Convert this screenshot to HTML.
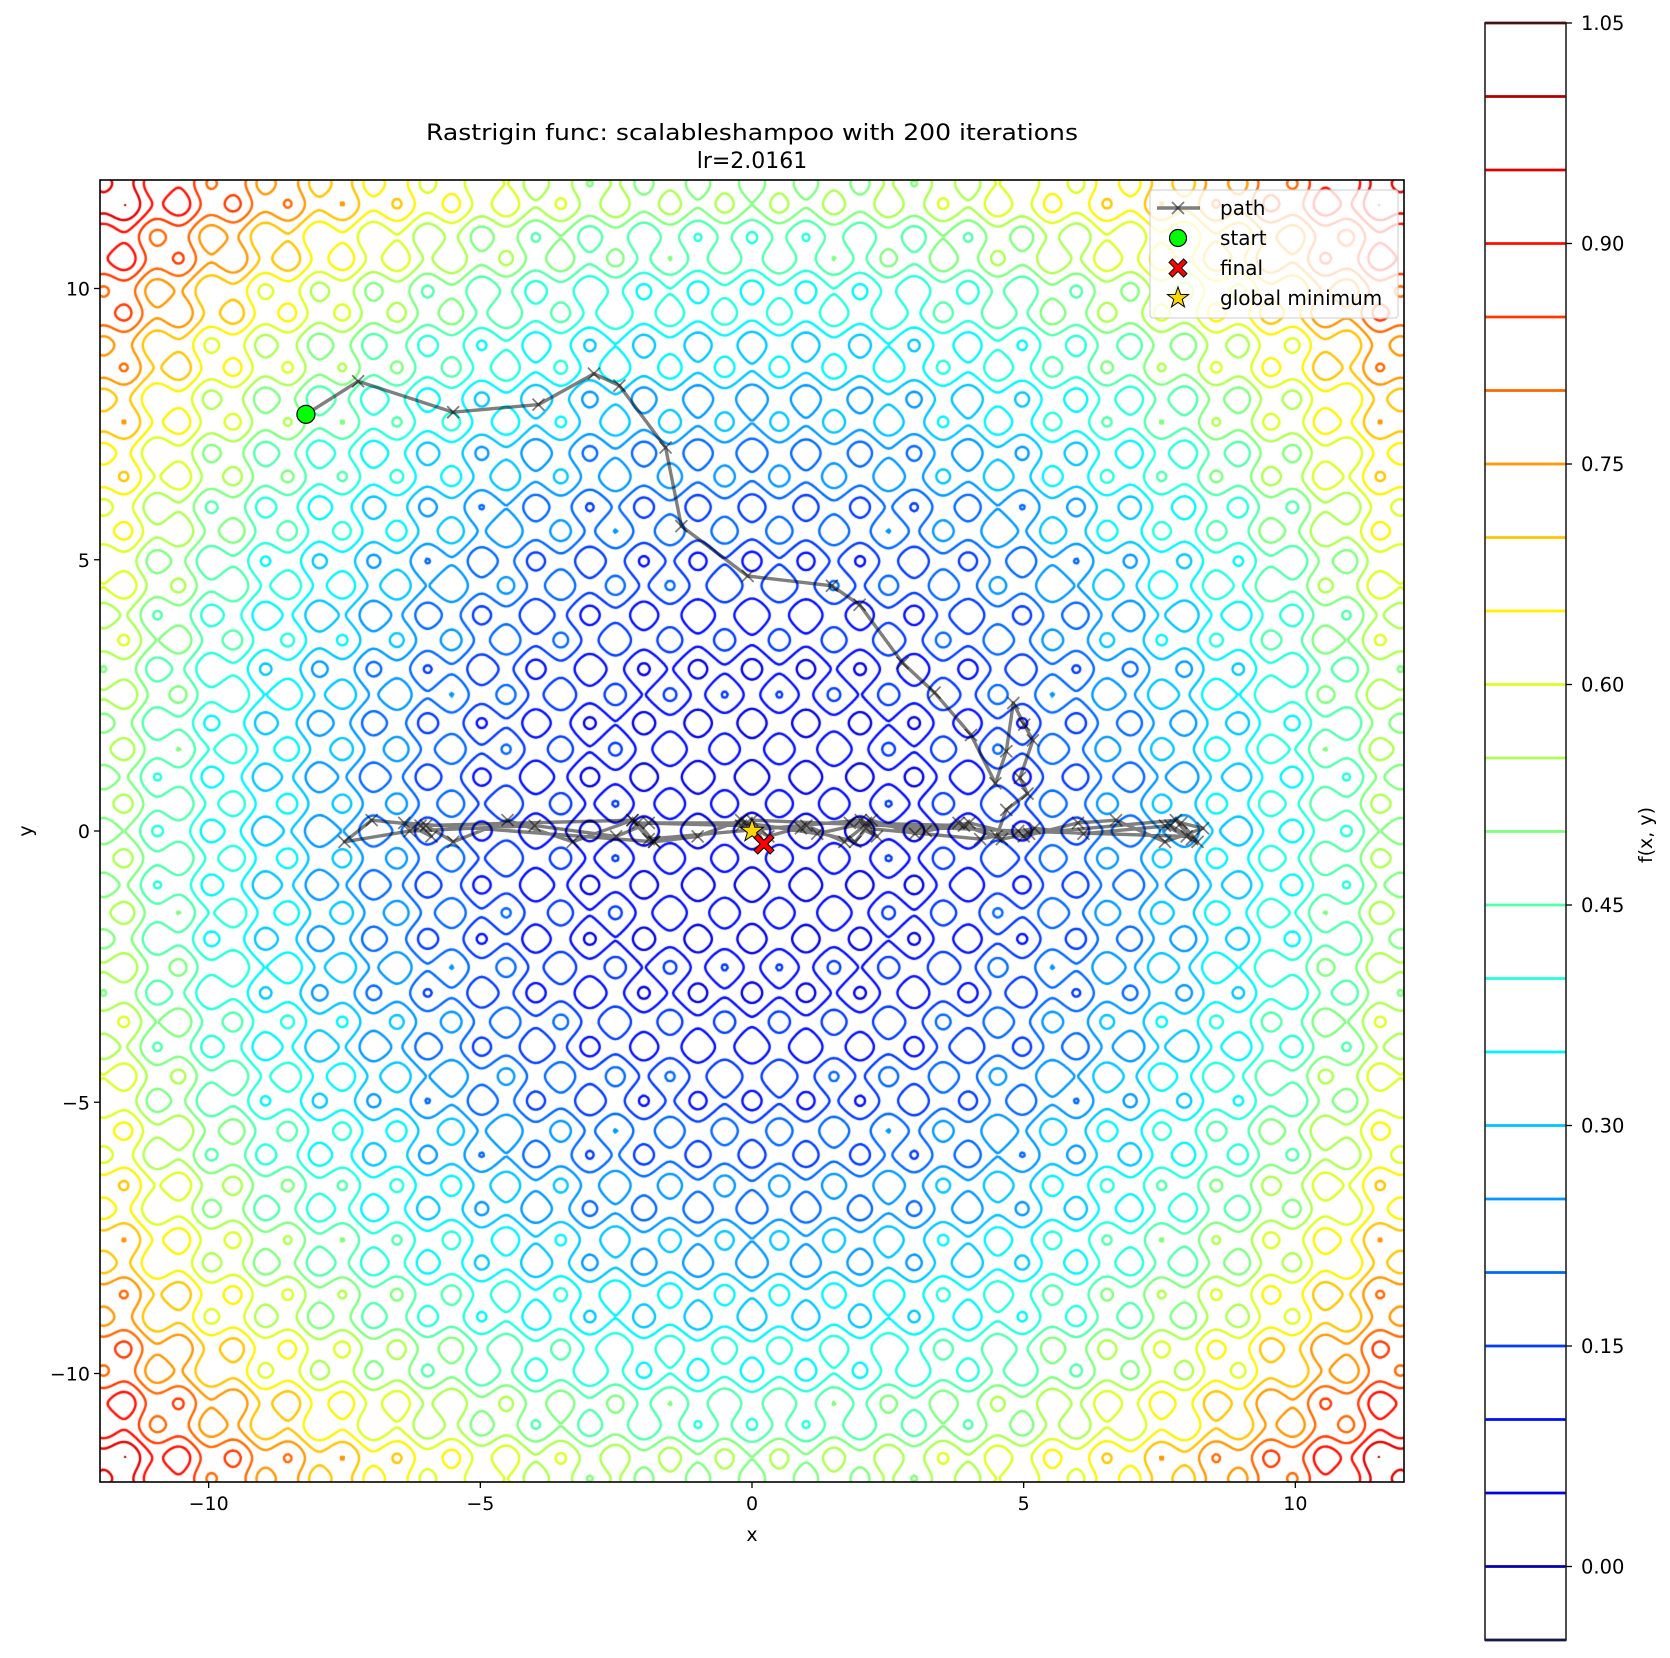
<!DOCTYPE html>
<html><head><meta charset="utf-8">
<style>
html,body{margin:0;padding:0;background:#fff;}
#wrap{position:relative;width:1670px;height:1658px;overflow:hidden;font-family:"DejaVu Sans","Liberation Sans",sans-serif;}
#cv{position:absolute;left:100px;top:180px;}
svg{position:absolute;left:0;top:0;}
</style></head>
<body>
<div id="wrap">
<canvas id="cv" width="1304" height="1302"></canvas>
<svg id="sv" width="1670" height="1658"></svg>
</div>
<script>
// ---- data ----
const levels = [-0.05,0,0.05,0.1,0.15,0.2,0.25,0.3,0.35,0.4,0.45,0.5,0.55,0.6,0.65,0.7,0.75,0.8,0.85,0.9,0.95,1.0,1.05];
const cbTicks = [0.00,0.15,0.30,0.45,0.60,0.75,0.90,1.05];
const axisTicks = [-10,-5,0,5,10];
const pathX = [-8.21,-7.25,-5.50,-3.93,-2.91,-2.44,-1.59,-1.30,-0.08,1.47,1.98,2.77,3.36,4.03,4.48,4.68,4.81,5.01,5.17,4.93,5.07,4.68,4.5,3.8,3.0,2.2,1.7,1.0,0.3,-0.2,-1.0,-1.8,-2.2,-3.3,-4.5,-5.5,-6.0,-7.0,-7.5,-6.3,-4.0,-2.5,-1.9,-0.1,1.2,2.1,3.2,4.0,5.0,6.0,6.7,7.6,8.3,7.9,8.2,7.7,6.1,5.2,4.2,2.1,1.9,0.9,-0.2,-2.1,-1.8,-6.4,-5.9,-6.1,-2.2,-1.9,2.0,2.3,1.8,3.9,4.6,5.1,7.8,8.1,7.6,8.0,4.9,0.0,0.22];
const pathY = [7.68,8.29,7.72,7.86,8.43,8.21,7.07,5.62,4.70,4.52,4.17,3.10,2.55,1.77,0.88,1.47,2.36,1.96,1.67,0.98,0.69,0.39,-0.1,0.15,-0.05,0.2,-0.2,0.1,-0.1,0.2,-0.1,-0.2,0.2,-0.2,0.2,-0.2,0.1,0.2,-0.2,0.0,0.1,-0.1,0.15,0.15,-0.05,0.15,0.0,0.15,-0.1,0.15,0.2,-0.2,0.05,0.15,-0.2,0.1,-0.05,0.05,-0.15,0.05,-0.2,0.05,0.1,0.15,-0.2,0.15,-0.1,0.1,0.2,-0.15,0.2,-0.1,0.15,0.1,-0.15,-0.05,0.2,-0.15,0.1,-0.1,0.0,0.2,-0.24];
const startPt = [-8.21,7.68];
const finalPt = [0.22,-0.24];
const globalMin = [0,0];

// ---- axes ----
const PL=100,PT=180,PW=1304,PH=1302,XMIN=-12,XMAX=12;
const sx = v => PL + (v-XMIN)/(XMAX-XMIN)*PW;
const sy = v => PT + (XMAX-v)/(XMAX-XMIN)*PH;
const CB_TOP=23, CB_BOT=1640, CBL=1485, CBR=1566;
const cby = v => CB_BOT - (v-levels[0])/(levels[levels.length-1]-levels[0])*(CB_BOT-CB_TOP);

function jet(t){const c=x=>Math.round(255*Math.max(0,Math.min(1,x)));
 return `rgb(${c(1.5-Math.abs(4*t-3))},${c(1.5-Math.abs(4*t-2))},${c(1.5-Math.abs(4*t-1))})`;}
const lvColor = lv => jet((lv-levels[0])/(levels[levels.length-1]-levels[0]));

// ---- contours ----
const N=520;
const rast=(x,y)=>20+x*x-10*Math.cos(2*Math.PI*x)+y*y-10*Math.cos(2*Math.PI*y);
const G=new Float64Array(N*N);let mx=0;
for(let j=0;j<N;j++)for(let i=0;i<N;i++){const x=XMIN+(XMAX-XMIN)*i/(N-1),y=XMIN+(XMAX-XMIN)*j/(N-1);const v=rast(x,y);G[j*N+i]=v;if(v>mx)mx=v;}
for(let k=0;k<G.length;k++)G[k]/=mx;
const ctx=document.getElementById('cv').getContext('2d');
ctx.lineWidth=2.4;ctx.lineCap='round';
const gx=i=>i/(N-1)*PW, gy=j=>PH-j/(N-1)*PH;
for(const lv of levels){
 ctx.strokeStyle=lvColor(lv);ctx.beginPath();
 for(let j=0;j<N-1;j++)for(let i=0;i<N-1;i++){
  const a=G[j*N+i],b=G[j*N+i+1],c=G[(j+1)*N+i+1],d=G[(j+1)*N+i];
  const pts=[];
  const e=(v1,v2,x1,y1,x2,y2)=>{if((v1<lv)!==(v2<lv)){const t=(lv-v1)/(v2-v1);pts.push([x1+(x2-x1)*t,y1+(y2-y1)*t]);}};
  e(a,b,gx(i),gy(j),gx(i+1),gy(j));
  e(b,c,gx(i+1),gy(j),gx(i+1),gy(j+1));
  e(c,d,gx(i+1),gy(j+1),gx(i),gy(j+1));
  e(d,a,gx(i),gy(j+1),gx(i),gy(j));
  for(let k=0;k+1<pts.length;k+=2){ctx.moveTo(pts[k][0],pts[k][1]);ctx.lineTo(pts[k+1][0],pts[k+1][1]);}
 }
 ctx.stroke();
}

// ---- svg overlay ----
const S=document.getElementById('sv');const NS='http://www.w3.org/2000/svg';
function mk(tag,at,parent){const e=document.createElementNS(NS,tag);for(const k in at)e.setAttribute(k,at[k]);(parent||S).appendChild(e);return e;}
function txt(x,y,s,at){const e=mk('text',Object.assign({x:x,y:y,'font-size':19,fill:'#000'},at||{}));e.textContent=s;return e;}

// path line
let d='';for(let k=0;k<pathX.length;k++)d+=(k?'L':'M')+sx(pathX[k]).toFixed(1)+' '+sy(pathY[k]).toFixed(1);
const pl=mk('path',{d:d,fill:'none',stroke:'#000','stroke-opacity':0.5,'stroke-width':3.4,'stroke-linejoin':'round'});


for(let k=0;k<pathX.length;k++){const x=sx(pathX[k]),y=sy(pathY[k]);
 const m=mk('path',{d:`M${x-6} ${y-6}L${x+6} ${y+6}M${x-6} ${y+6}L${x+6} ${y-6}`,stroke:'#000','stroke-opacity':0.5,'stroke-width':1.8});
 
 }
function star(cx,cy,r){let p='';for(let k=0;k<10;k++){const rr=k%2?r*0.4:r,a=-Math.PI/2+k*Math.PI/5;p+=(k?'L':'M')+(cx+rr*Math.cos(a)).toFixed(1)+' '+(cy+rr*Math.sin(a)).toFixed(1);}return p+'Z';}
function xmark(cx,cy,r){const w=r*0.38;return `M${cx-r} ${cy-r+w}L${cx-r+w} ${cy-r}L${cx} ${cy-w}L${cx+r-w} ${cy-r}L${cx+r} ${cy-r+w}L${cx+w} ${cy}L${cx+r} ${cy+r-w}L${cx+r-w} ${cy+r}L${cx} ${cy+w}L${cx-r+w} ${cy+r}L${cx-r} ${cy+r-w}L${cx-w} ${cy}Z`;}
const sm=mk('circle',{cx:sx(startPt[0]),cy:sy(startPt[1]),r:9,fill:'#00ff00',stroke:'#000','stroke-width':1.2});

const gm=mk('path',{d:star(sx(globalMin[0]),sy(globalMin[1]),12),fill:'#ffd700',stroke:'#000','stroke-width':1});

const fm=mk('path',{d:xmark(sx(finalPt[0]),sy(finalPt[1]),10),fill:'#ff0000',stroke:'#000','stroke-width':1});


// axes frame + ticks
const fr=mk('rect',{x:PL,y:PT,width:PW,height:PH,fill:'none',stroke:'#000','stroke-width':1.6});

for(const t of axisTicks){
 mk('line',{x1:sx(t),x2:sx(t),y1:PT+PH,y2:PT+PH+6,stroke:'#000','stroke-width':1.3});
 const lx=txt(sx(t),PT+PH+28,t<0?'\u2212'+(-t):String(t),{'text-anchor':'middle'});
 
 mk('line',{x1:PL-6,x2:PL,y1:sy(t),y2:sy(t),stroke:'#000','stroke-width':1.3});
 const ly=txt(PL-10,sy(t)+7,t<0?'\u2212'+(-t):String(t),{'text-anchor':'end'});
 
}
const xt=txt(sx(0),1541,'x',{'text-anchor':'middle'});
const yt=txt(0,0,'y',{'text-anchor':'middle',transform:`translate(32,${sy(0)}) rotate(-90)`});
const t1=txt(752,140,'Rastrigin func: scalableshampoo with 200 iterations',{'text-anchor':'middle','font-size':22,textLength:652,lengthAdjust:'spacingAndGlyphs'});

const t2=txt(752,168,'lr=2.0161',{'text-anchor':'middle','font-size':22});


// legend
const lg=mk('g',{});
mk('rect',{x:1150,y:190,width:248,height:128,rx:3,fill:'#fff','fill-opacity':0.8,stroke:'#ccc','stroke-width':1},lg);
mk('line',{x1:1157,x2:1200,y1:208,y2:208,stroke:'#000','stroke-opacity':0.5,'stroke-width':3.4},lg);
mk('path',{d:'M1172 202L1184 214M1172 214L1184 202',stroke:'#000','stroke-opacity':0.5,'stroke-width':1.8},lg);
mk('circle',{cx:1178,cy:238,r:8.5,fill:'#00ff00',stroke:'#000','stroke-width':1.2},lg);
mk('path',{d:xmark(1178,268,9),fill:'#ff0000',stroke:'#000','stroke-width':1},lg);
mk('path',{d:star(1178,298,11),fill:'#ffd700',stroke:'#000','stroke-width':1},lg);
const names=['path','start','final','global minimum'];
names.forEach((n,k)=>{const e=txt(1220,215+30*k,n,{'font-size':20});lg.appendChild(e);
 });

// colorbar
const cb=mk('g',{});
for(const lv of levels){const l=mk('line',{x1:CBL,x2:CBR,y1:cby(lv),y2:cby(lv),stroke:lvColor(lv),'stroke-width':2.8},cb);
 }
mk('rect',{x:CBL,y:CB_TOP,width:CBR-CBL,height:CB_BOT-CB_TOP,fill:'none',stroke:'#222','stroke-width':1.6},cb);
for(const t of cbTicks){mk('line',{x1:CBR,x2:CBR+6,y1:cby(t),y2:cby(t),stroke:'#000','stroke-width':1.3},cb);
 const e=txt(CBR+15,cby(t)+7,t.toFixed(2),{'font-size':19.5});cb.appendChild(e);
 }
const cl=txt(0,0,'f(x, y)',{'text-anchor':'middle','font-size':19,transform:`translate(1652,835) rotate(-90)`});

</script>
</body></html>
